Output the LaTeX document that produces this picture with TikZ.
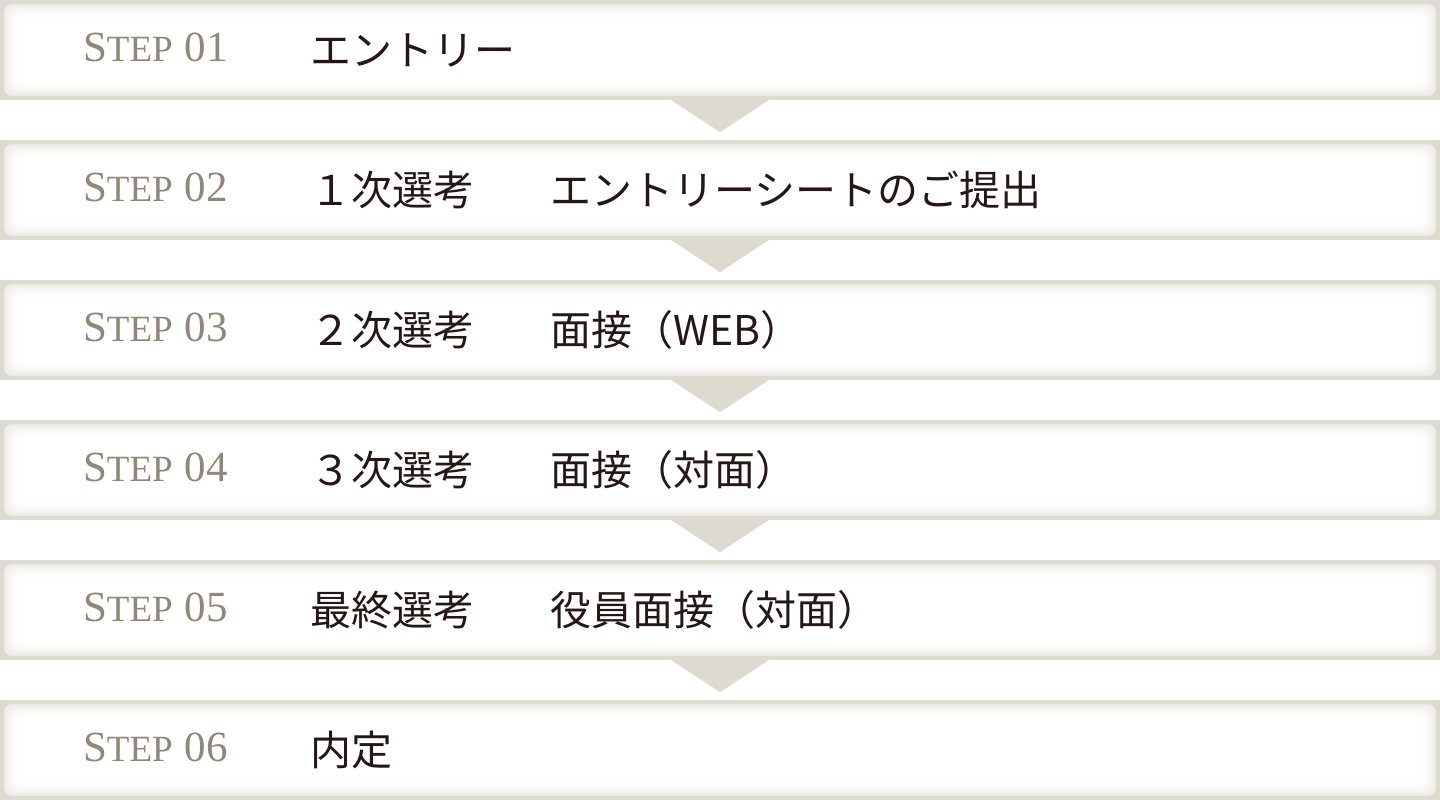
\documentclass[tikz,border=0pt]{standalone}
\usepackage{fontspec}
\newfontfamily\jpfont{Noto Sans CJK JP}
\newfontfamily\stepfont{Liberation Serif}
\usepackage{tikz}
\usetikzlibrary{calc,positioning}
\definecolor{barframe}{RGB}{221,218,209}
\definecolor{steptext}{RGB}{143,135,121}
\definecolor{jptext}{RGB}{35,24,21}
\newcommand{\steptag}[1]{{\fontsize{43}{43}\selectfont S}{\fontsize{37}{37}\selectfont TEP}\hspace{12pt}{\fontsize{43}{43}\selectfont #1}}
\tikzset{
  stepbar/.style={
    rectangle, inner sep=0pt, minimum width=1440pt, minimum height=100pt, fill=barframe,
    path picture={
      \foreach \k [evaluate=\k as \m using {55*(1-\k/16)^2}] in {0,...,16}
        \fill[barframe!\m!white, rounded corners=8pt]
          ($(path picture bounding box.north west)+(4pt+\k pt,-4pt-\k pt)$) rectangle
          ($(path picture bounding box.south east)+(-4pt-\k pt,4pt+\k pt)$);
    }
  },
  stepnum/.style={anchor=base west, inner sep=0pt, text=steptext, font=\stepfont},
  stepname/.style={anchor=west, inner sep=0pt, text=jptext, font=\jpfont\fontsize{41}{41}\selectfont}
}

\begin{document}
\begin{tikzpicture}[x=1pt,y=1pt]
\useasboundingbox (0,0) rectangle (1440,800);
\foreach \i in {1,...,6}{
  \node[stepbar] (bar\i) at (720,{750-140*(\i-1)}) {};
  \node[stepnum] (num\i) at ([xshift=83pt,yshift=-12pt]bar\i.west) {\steptag{0\i}};
}
% arrows between the steps
\foreach \i in {1,...,5}
  \fill[barframe] ([xshift=-50pt,yshift=1pt]bar\i.south) -- ([xshift=50pt,yshift=1pt]bar\i.south)
    -- ([yshift=-32pt]bar\i.south) -- cycle;

\node[stepname] (name1) at ([xshift=310pt]bar1.west) {エントリー};
\node[stepname] (name2) at ([xshift=310pt]bar2.west) {１次選考};
\node[stepname] (name3) at ([xshift=310pt]bar3.west) {２次選考};
\node[stepname] (name4) at ([xshift=310pt]bar4.west) {３次選考};
\node[stepname] (name5) at ([xshift=310pt]bar5.west) {最終選考};
\node[stepname] (name6) at ([xshift=310pt]bar6.west) {内定};

\node[stepname] (task2) at ([xshift=550pt]bar2.west) {エントリーシートのご提出};
\node[stepname] (task3) at ([xshift=550pt]bar3.west) {面接（WEB）};
\node[stepname] (task4) at ([xshift=550pt]bar4.west) {面接（対面）};
\node[stepname] (task5) at ([xshift=550pt]bar5.west) {役員面接（対面）};
\end{tikzpicture}
\end{document}
